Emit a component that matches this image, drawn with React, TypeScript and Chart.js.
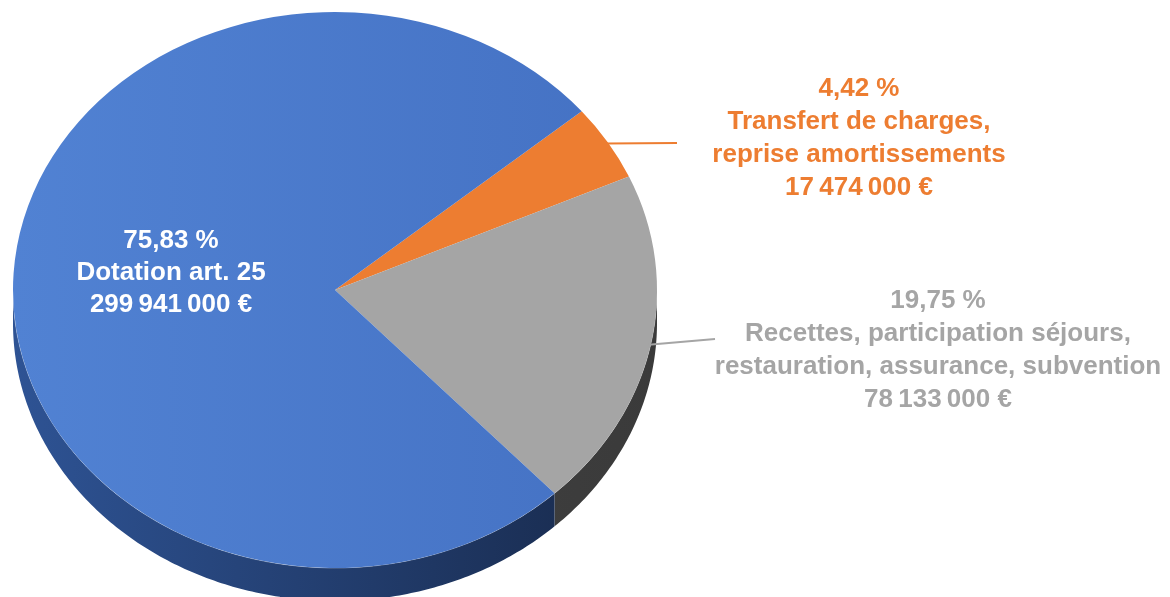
import React, { useEffect, useRef } from "react";
import { Chart, registerables } from "chart.js";

Chart.register(...registerables);

// ---- data ----
const categories = [
  "Transfert de charges,\nreprise amortissements",
  "Recettes, participation séjours,\nrestauration, assurance, subvention",
  "Dotation art. 25",
];
const amounts = [17474000, 78133000, 299941000];
const percentLabels = ["4,42 %", "19,75 %", "75,83 %"];

// ---- styles ----
const sliceColors = ["#ED7D31", "#A5A5A5", "#4472C4"];
const sideColors = [
  ["#a4521c", "#8a4513"],
  ["#4a4a4a", "#3a3a3a"],
  ["#2E5394", "#172849"],
];
const labelColors = ["#ED7D31", "#A5A5A5", "#FFFFFF"];

const W = 1170;
const H = 597;
const CX = 335;
const CY = 290;
const RX = 322;
const RY = 278;
const DEPTH = 33;
const ROTATION = 50;

const labelBoxes = [
  { left: 659, top: 71, width: 400, lh: 33 },
  { left: 688, top: 283, width: 500, lh: 33 },
  { left: 21, top: 223, width: 300, lh: 32 },
];
const leaderEnds: (null | [number, number])[] = [[677, 143], [715, 339], null];

function fmtAmount(n: number): string {
  return n.toString().replace(/\B(?=(\d{3})+(?!\d))/g, "\u2009") + " €";
}

function drawSide(ctx: CanvasRenderingContext2D, a1: number, a2: number, i: number) {
  const steps = Math.max(8, Math.ceil((a2 - a1) * 80));
  ctx.beginPath();
  for (let s = 0; s <= steps; s++) {
    const a = a1 + ((a2 - a1) * s) / steps;
    const px = CX + RX * Math.cos(a);
    const py = CY + RY * Math.sin(a);
    if (s === 0) ctx.moveTo(px, py);
    else ctx.lineTo(px, py);
  }
  for (let s = steps; s >= 0; s--) {
    const a = a1 + ((a2 - a1) * s) / steps;
    ctx.lineTo(CX + RX * Math.cos(a), CY + RY * Math.sin(a) + DEPTH);
  }
  ctx.closePath();
  const g = ctx.createLinearGradient(CX - RX, 0, CX + RX, 0);
  g.addColorStop(0, sideColors[i][0]);
  g.addColorStop(1, sideColors[i][1]);
  ctx.fillStyle = g;
  ctx.fill();
}

const pie3d = {
  id: "pie3d",
  beforeDatasetsDraw(chart: any) {
    const ctx: CanvasRenderingContext2D = chart.ctx;
    const meta = chart.getDatasetMeta(0);
    ctx.save();
    meta.data.forEach((arc: any, i: number) => {
      const { startAngle, endAngle } = arc.getProps(["startAngle", "endAngle"], true);
      for (let k = -2; k <= 3; k++) {
        const lo = Math.max(startAngle, k * 2 * Math.PI);
        const hi = Math.min(endAngle, k * 2 * Math.PI + Math.PI);
        if (hi > lo) drawSide(ctx, lo, hi, i);
      }
    });
    ctx.beginPath();
    ctx.ellipse(CX, CY, RX, RY, 0, 0.02, Math.PI - 0.02);
    ctx.strokeStyle = "rgba(255,255,255,0.35)";
    ctx.lineWidth = 1;
    ctx.stroke();
    const a0 = meta.data[0];
    const x = a0.x;
    const y = a0.y;
    const r = a0.outerRadius;
    ctx.translate(CX, CY);
    ctx.scale(RX / r, RY / r);
    ctx.translate(-x, -y);
  },
  afterDatasetsDraw(chart: any) {
    const ctx: CanvasRenderingContext2D = chart.ctx;
    ctx.restore();
    const meta = chart.getDatasetMeta(0);
    meta.data.forEach((arc: any, i: number) => {
      const end = leaderEnds[i];
      if (!end) return;
      const { startAngle, endAngle } = arc.getProps(["startAngle", "endAngle"], true);
      const m = (startAngle + endAngle) / 2;
      ctx.save();
      ctx.beginPath();
      ctx.moveTo(CX + (RX - 2) * Math.cos(m), CY + (RY - 2) * Math.sin(m));
      ctx.lineTo(end[0], end[1]);
      ctx.strokeStyle = sliceColors[i];
      ctx.lineWidth = 2;
      ctx.stroke();
      ctx.restore();
    });
  },
};

export default function App() {
  const ref = useRef<HTMLCanvasElement | null>(null);

  useEffect(() => {
    document.body.style.margin = "0";
    document.body.style.overflow = "hidden";
    if (!ref.current) return;
    const chart = new Chart(ref.current, {
      type: "pie",
      data: {
        labels: categories,
        datasets: [
          {
            data: amounts,
            backgroundColor: (c: any) => {
              const i = c.dataIndex;
              if (i !== 2) return sliceColors[i];
              const area = c.chart.chartArea;
              if (!area) return sliceColors[i];
              const cx = (area.left + area.right) / 2;
              const r = Math.min(area.right - area.left, area.bottom - area.top) / 2;
              const g = c.chart.ctx.createLinearGradient(cx - r, 0, cx + r, 0);
              g.addColorStop(0, "#5182D3");
              g.addColorStop(1, "#4471C3");
              return g;
            },
            borderWidth: 0,
            clip: false,
          } as any,
        ],
      },
      options: {
        responsive: false,
        maintainAspectRatio: false,
        devicePixelRatio: 1,
        animation: false,
        rotation: ROTATION,
        layout: { padding: 0 },
        plugins: {
          legend: { display: false },
          tooltip: { enabled: false },
        },
      } as any,
      plugins: [pie3d],
    });
    return () => chart.destroy();
  }, []);

  return (
    <div style={{ position: "relative", width: W, height: H, overflow: "hidden", background: "#fff" }}>
      <canvas ref={ref} width={W} height={H} style={{ position: "absolute", left: 0, top: 0 }} />
      {categories.map((cat, i) => (
        <div
          key={i}
          style={{
            position: "absolute",
            left: labelBoxes[i].left,
            top: labelBoxes[i].top,
            width: labelBoxes[i].width,
            textAlign: "center",
            whiteSpace: "pre",
            fontFamily: '"Liberation Sans", Arial, sans-serif',
            fontWeight: 700,
            fontSize: 26,
            lineHeight: labelBoxes[i].lh + "px",
            color: labelColors[i],
          }}
        >
          {percentLabels[i] + "\n" + cat + "\n" + fmtAmount(amounts[i])}
        </div>
      ))}
    </div>
  );
}
